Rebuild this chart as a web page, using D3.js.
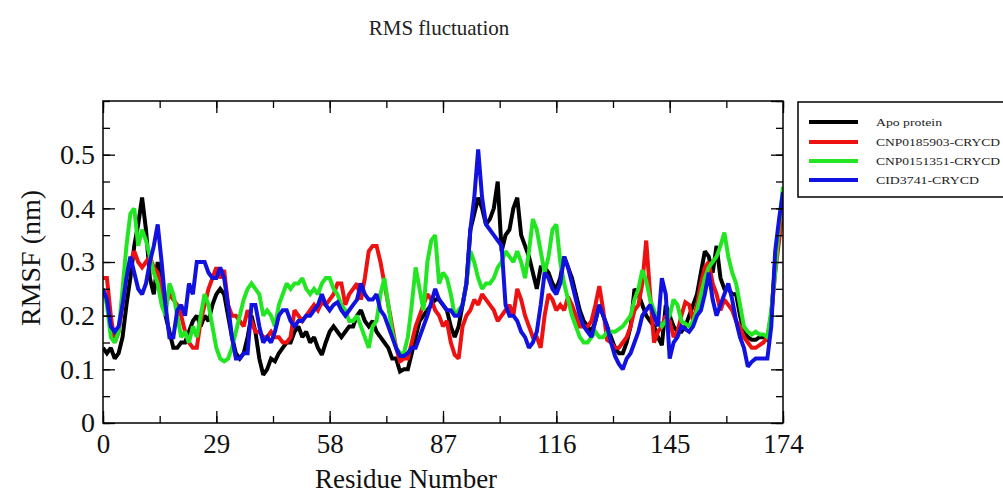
<!DOCTYPE html>
<html>
<head>
<meta charset="utf-8">
<script src="https://cdn.jsdelivr.net/npm/d3@7"></script>
<style>
  html, body { margin: 0; padding: 0; background: #fff; }
  svg { display: block; }
</style>
</head>
<body>
<svg id="chart" width="1003" height="493"></svg>
<script>
const seriesNames = ["Apo protein", "CNP0185903-CRYCD", "CNP0151351-CRYCD", "CID3741-CRYCD"];
const seriesColors = ["#000000", "#ee1111", "#22e622", "#1212e0"];
const xTickValues = [0, 29, 58, 87, 116, 145, 174];
const yTickValues = [0, 0.1, 0.2, 0.3, 0.4, 0.5];

const apo = [
  0.14,0.13,0.14,0.12,0.13,0.16,0.22,0.27,0.33,0.37,
  0.42,0.36,0.27,0.24,0.30,0.26,0.20,0.17,0.14,0.14,
  0.15,0.15,0.17,0.19,0.20,0.18,0.20,0.19,0.22,0.24,
  0.25,0.24,0.20,0.16,0.13,0.12,0.13,0.16,0.20,0.17,
  0.12,0.09,0.10,0.12,0.115,0.13,0.14,0.15,0.15,0.17,
  0.18,0.16,0.17,0.15,0.16,0.14,0.127,0.15,0.17,0.18,
  0.17,0.16,0.17,0.18,0.18,0.20,0.21,0.19,0.18,0.19,
  0.17,0.16,0.15,0.14,0.12,0.12,0.096,0.10,0.10,0.13,
  0.16,0.19,0.20,0.21,0.22,0.23,0.23,0.22,0.21,0.18,
  0.16,0.18,0.22,0.26,0.36,0.39,0.42,0.40,0.37,0.38,
  0.40,0.45,0.32,0.35,0.36,0.40,0.42,0.35,0.33,0.31,
  0.28,0.25,0.29,0.29,0.28,0.26,0.25,0.27,0.31,0.29,
  0.27,0.24,0.21,0.19,0.18,0.17,0.19,0.22,0.20,0.18,
  0.16,0.14,0.13,0.13,0.15,0.18,0.25,0.24,0.22,0.20,
  0.19,0.18,0.16,0.145,0.22,0.20,0.18,0.17,0.17,0.18,
  0.20,0.22,0.24,0.28,0.32,0.31,0.28,0.33,0.27,0.25,
  0.25,0.24,0.24,0.20,0.17,0.16,0.155,0.155,0.16,0.16,
  0.155,0.20,0.30,0.37,0.42
];
const cnp0185903 = [
  0.27,0.27,0.20,0.15,0.17,0.22,0.28,0.30,0.32,0.30,
  0.29,0.30,0.31,0.29,0.28,0.25,0.22,0.24,0.23,0.22,
  0.20,0.17,0.15,0.14,0.14,0.19,0.22,0.25,0.27,0.29,
  0.27,0.285,0.22,0.20,0.20,0.19,0.18,0.21,0.19,0.17,
  0.17,0.16,0.16,0.17,0.16,0.16,0.15,0.15,0.16,0.21,
  0.20,0.19,0.20,0.21,0.22,0.21,0.225,0.22,0.23,0.24,
  0.26,0.26,0.22,0.24,0.25,0.26,0.23,0.27,0.32,0.33,
  0.33,0.30,0.26,0.22,0.18,0.14,0.115,0.12,0.12,0.15,
  0.18,0.20,0.22,0.24,0.23,0.21,0.20,0.18,0.19,0.15,
  0.127,0.12,0.18,0.20,0.21,0.23,0.22,0.24,0.23,0.22,
  0.21,0.19,0.20,0.21,0.22,0.20,0.25,0.23,0.20,0.18,
  0.16,0.16,0.14,0.20,0.24,0.23,0.21,0.22,0.21,0.235,
  0.22,0.20,0.18,0.18,0.18,0.19,0.22,0.255,0.21,0.155,
  0.15,0.14,0.14,0.15,0.16,0.18,0.21,0.22,0.26,0.34,
  0.24,0.15,0.17,0.18,0.20,0.19,0.16,0.17,0.20,0.225,
  0.22,0.19,0.22,0.26,0.29,0.30,0.26,0.24,0.21,0.23,
  0.22,0.21,0.19,0.18,0.16,0.15,0.14,0.14,0.145,0.15,
  0.16,0.20,0.28,0.34,0.40
];
const cnp0151351 = [
  0.25,0.22,0.16,0.15,0.17,0.25,0.33,0.39,0.40,0.33,
  0.36,0.34,0.31,0.28,0.26,0.22,0.20,0.26,0.24,0.20,
  0.16,0.17,0.15,0.18,0.16,0.20,0.24,0.22,0.18,0.14,
  0.12,0.115,0.12,0.14,0.17,0.20,0.23,0.25,0.26,0.25,
  0.24,0.20,0.21,0.20,0.18,0.22,0.24,0.26,0.25,0.26,
  0.26,0.27,0.25,0.24,0.25,0.24,0.26,0.27,0.27,0.25,
  0.24,0.22,0.21,0.19,0.19,0.20,0.18,0.16,0.14,0.18,
  0.19,0.24,0.27,0.22,0.17,0.14,0.13,0.13,0.16,0.22,
  0.29,0.25,0.21,0.30,0.34,0.35,0.26,0.28,0.27,0.24,
  0.20,0.21,0.22,0.26,0.32,0.30,0.27,0.25,0.26,0.26,
  0.27,0.29,0.30,0.32,0.31,0.30,0.32,0.30,0.27,0.32,
  0.38,0.36,0.32,0.28,0.31,0.36,0.37,0.30,0.26,0.23,
  0.20,0.18,0.16,0.15,0.15,0.16,0.17,0.16,0.16,0.17,
  0.17,0.17,0.175,0.18,0.19,0.20,0.23,0.25,0.285,0.265,
  0.23,0.21,0.19,0.18,0.19,0.20,0.23,0.22,0.19,0.185,
  0.18,0.19,0.21,0.24,0.27,0.29,0.30,0.31,0.33,0.355,
  0.31,0.28,0.26,0.22,0.18,0.17,0.165,0.17,0.165,0.165,
  0.16,0.21,0.28,0.37,0.44
];
const cid3741 = [
  0.25,0.23,0.18,0.17,0.18,0.22,0.27,0.31,0.28,0.25,
  0.24,0.26,0.30,0.33,0.37,0.30,0.22,0.16,0.16,0.21,
  0.22,0.20,0.26,0.24,0.30,0.30,0.30,0.28,0.27,0.27,
  0.29,0.27,0.22,0.16,0.12,0.12,0.13,0.13,0.22,0.22,
  0.18,0.15,0.16,0.15,0.17,0.20,0.21,0.21,0.19,0.18,
  0.19,0.19,0.20,0.20,0.21,0.22,0.24,0.22,0.21,0.22,
  0.225,0.21,0.20,0.21,0.22,0.23,0.26,0.24,0.23,0.23,
  0.24,0.21,0.20,0.18,0.16,0.14,0.125,0.125,0.13,0.14,
  0.14,0.16,0.18,0.20,0.225,0.25,0.23,0.22,0.21,0.21,
  0.20,0.20,0.22,0.26,0.36,0.42,0.51,0.42,0.37,0.36,
  0.35,0.34,0.33,0.22,0.20,0.20,0.19,0.17,0.16,0.14,
  0.15,0.17,0.22,0.28,0.27,0.25,0.24,0.26,0.31,0.29,
  0.26,0.23,0.20,0.18,0.17,0.16,0.19,0.22,0.20,0.18,
  0.15,0.125,0.11,0.10,0.12,0.13,0.15,0.17,0.20,0.21,
  0.22,0.20,0.18,0.27,0.24,0.12,0.15,0.16,0.18,0.175,
  0.17,0.18,0.20,0.21,0.24,0.28,0.23,0.20,0.22,0.24,
  0.26,0.23,0.19,0.16,0.14,0.105,0.114,0.12,0.12,0.12,
  0.12,0.18,0.32,0.38,0.43
];
const seriesValues = [apo, cnp0185903, cnp0151351, cid3741];

const svg = d3.select("#chart");
const serif = "'Liberation Serif', 'Times New Roman', serif";
const plot = { left: 103, right: 783, top: 101, bottom: 423 };

const x = d3.scaleLinear().domain([0, 174]).range([plot.left, plot.right]);
const y = d3.scaleLinear().domain([0, 0.6]).range([plot.bottom, plot.top]);

// Title
svg.append("text").attr("x", 439).attr("y", 35).attr("text-anchor", "middle")
  .attr("font-family", serif).attr("font-size", 21).attr("fill", "#222")
  .text("RMS fluctuation");

// Lines
svg.append("defs").append("clipPath").attr("id", "clip")
  .append("rect").attr("x", plot.left).attr("y", plot.top - 2)
  .attr("width", plot.right - plot.left).attr("height", plot.bottom - plot.top + 2);

const line = d3.line().x((d, i) => x(i)).y(d => y(d));
const gLines = svg.append("g").attr("clip-path", "url(#clip)");
seriesValues.forEach((vals, k) => {
  gLines.append("path").datum(vals)
    .attr("d", line).attr("fill", "none")
    .attr("stroke", seriesColors[k]).attr("stroke-width", 4)
    .attr("stroke-linejoin", "miter").attr("stroke-miterlimit", 2);
});

// Axes with inward ticks
const xMinor = d3.range(0, 174.01, 14.5);
const yMinor = d3.range(0, 0.6001, 0.05);
const majorLen = 12, minorLen = 7;

function drawAxis(axis, transform) {
  const g = svg.append("g").attr("transform", transform).call(axis);
  g.select(".domain").remove();
  g.selectAll("line").attr("stroke", "#000").attr("stroke-width", 1.3);
  return g;
}
drawAxis(d3.axisBottom(x).tickValues(xMinor).tickSize(-minorLen).tickFormat(""), `translate(0,${plot.bottom})`);
const gxb = drawAxis(d3.axisBottom(x).tickValues(xTickValues).tickSize(-majorLen).tickPadding(11).tickFormat(d3.format("d")), `translate(0,${plot.bottom})`);
gxb.selectAll("text").attr("font-family", serif).attr("font-size", 27).attr("fill", "#111");
drawAxis(d3.axisTop(x).tickValues(xMinor).tickSize(-minorLen).tickFormat(""), `translate(0,${plot.top})`);
drawAxis(d3.axisTop(x).tickValues(xTickValues).tickSize(-majorLen).tickFormat(""), `translate(0,${plot.top})`);
drawAxis(d3.axisLeft(y).tickValues(yMinor).tickSize(-minorLen).tickFormat(""), `translate(${plot.left},0)`);
const gyl = drawAxis(d3.axisLeft(y).tickValues(yTickValues).tickSize(-majorLen).tickPadding(8).tickFormat(d => d === 0 ? "0" : d3.format(".1f")(d)), `translate(${plot.left},0)`);
gyl.selectAll("text").attr("font-family", serif).attr("font-size", 28).attr("fill", "#111");
drawAxis(d3.axisRight(y).tickValues(yMinor).tickSize(-minorLen).tickFormat(""), `translate(${plot.right},0)`);
drawAxis(d3.axisRight(y).tickValues(d3.range(0, 0.6001, 0.1)).tickSize(-majorLen).tickFormat(""), `translate(${plot.right},0)`);

// Frame
svg.append("rect").attr("x", plot.left).attr("y", plot.top)
  .attr("width", plot.right - plot.left).attr("height", plot.bottom - plot.top)
  .attr("fill", "none").attr("stroke", "#000").attr("stroke-width", 1.5);

// Axis titles
svg.append("text").attr("x", 406).attr("y", 488).attr("text-anchor", "middle")
  .attr("font-family", serif).attr("font-size", 27).attr("fill", "#111")
  .text("Residue Number");
svg.append("text").attr("transform", "translate(40,258) rotate(-90)").attr("text-anchor", "middle")
  .attr("font-family", serif).attr("font-size", 28).attr("fill", "#111")
  .text("RMSF (nm)");

// Legend
const legend = svg.append("g");
legend.append("rect").attr("x", 798).attr("y", 102).attr("width", 230).attr("height", 95)
  .attr("fill", "#fff").attr("stroke", "#000").attr("stroke-width", 1.5);
const legendY = [122, 142, 161, 180];
const legendLen = [66, 124, 124, 103];
seriesNames.forEach((name, k) => {
  legend.append("line").attr("x1", 809).attr("x2", 858).attr("y1", legendY[k]).attr("y2", legendY[k])
    .attr("stroke", seriesColors[k]).attr("stroke-width", 4);
  legend.append("text").attr("x", 876).attr("y", legendY[k]).attr("dy", "0.35em")
    .attr("font-family", serif).attr("font-size", 10.5).attr("fill", "#222")
    .attr("textLength", legendLen[k]).attr("lengthAdjust", "spacingAndGlyphs")
    .text(name);
});
</script>
</body>
</html>
